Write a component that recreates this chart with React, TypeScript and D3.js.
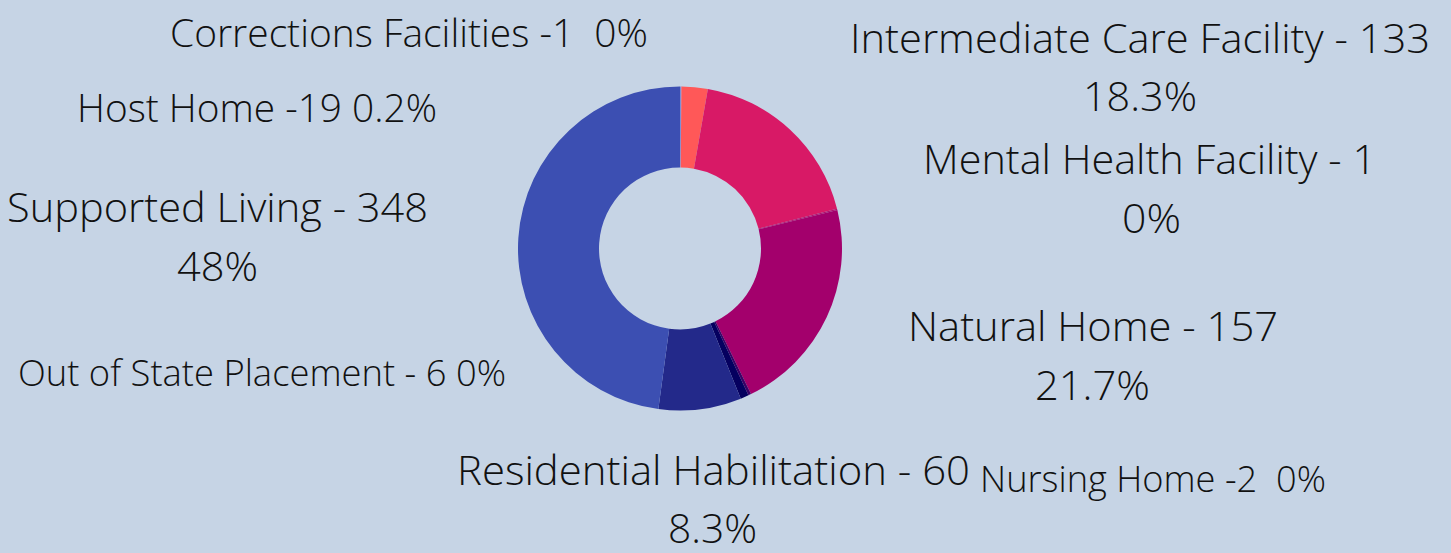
import React from "react";
import * as d3 from "d3";

const categories = [
  "Corrections Facilities",
  "Host Home",
  "Intermediate Care Facility",
  "Mental Health Facility",
  "Natural Home",
  "Nursing Home",
  "Out of State Placement",
  "Residential Habilitation",
  "Supported Living",
];
const values = [1, 19, 133, 1, 157, 2, 6, 60, 348];
const colors = [
  "#7d8fd6",
  "#ff5858",
  "#d81966",
  "#b0106f",
  "#a3006c",
  "#3a0066",
  "#05005f",
  "#23298a",
  "#3c4fb2",
];

// Label text lines exactly as written in the chart
const labelLines = [
  ["Corrections Facilities -1  0%"],
  ["Host Home -19 0.2%"],
  ["Intermediate Care Facility - 133", "18.3%"],
  ["Mental Health Facility - 1", "0%"],
  ["Natural Home - 157", "21.7%"],
  ["Nursing Home -2  0%"],
  ["Out of State Placement - 6 0%"],
  ["Residential Habilitation - 60", "8.3%"],
  ["Supported Living - 348", "48%"],
];

// layout: [centerX, baselineY, width, fontSize] per line
const labelLayout: number[][][] = [
  [[409, 47, 478, 39]],
  [[257, 122, 360, 39]],
  [[1140, 53, 580, 41], [1140, 111, 114, 41]],
  [[1149.5, 174, 453, 41], [1151.5, 233, 59, 41]],
  [[1093, 341, 370, 41], [1092.5, 400, 115, 41]],
  [[1153, 492, 346, 36]],
  [[262, 386, 488, 36]],
  [[713.5, 485, 513, 41], [712.5, 543, 89, 41]],
  [[217.5, 222, 421, 41], [217.5, 281, 81, 41]],
];

const W = 1451;
const H = 553;
const cx = 680;
const cy = 248.5;
const outerR = 162;
const innerR = 81;

export default function App() {
  const pie = d3
    .pie<number>()
    .sort(null)
    .value((d) => d)(values);
  const arc = d3
    .arc<d3.PieArcDatum<number>>()
    .innerRadius(innerR)
    .outerRadius(outerR);

  return (
    <svg
      width={W}
      height={H}
      style={{ position: "absolute", left: 0, top: 0, display: "block" }}
    >
      <rect x={0} y={0} width={W} height={H} fill="#c6d4e5" />
      <g transform={`translate(${cx},${cy})`}>
        {pie.map((p, i) => (
          <path key={categories[i]} d={arc(p) || ""} fill={colors[i]} />
        ))}
      </g>
      <g
        fontFamily="'Open Sans', sans-serif"
        fontWeight={300}
        fill="#111"
        textAnchor="middle"
      >
        {labelLines.map((lines, i) =>
          lines.map((t, j) => {
            const [x, y, w, fs] = labelLayout[i][j];
            return (
              <text
                key={`${i}-${j}`}
                x={x}
                y={y}
                fontSize={fs}
                textLength={w}
                lengthAdjust="spacingAndGlyphs"
                style={{ whiteSpace: "pre" }}
              >
                {t}
              </text>
            );
          })
        )}
      </g>
    </svg>
  );
}
